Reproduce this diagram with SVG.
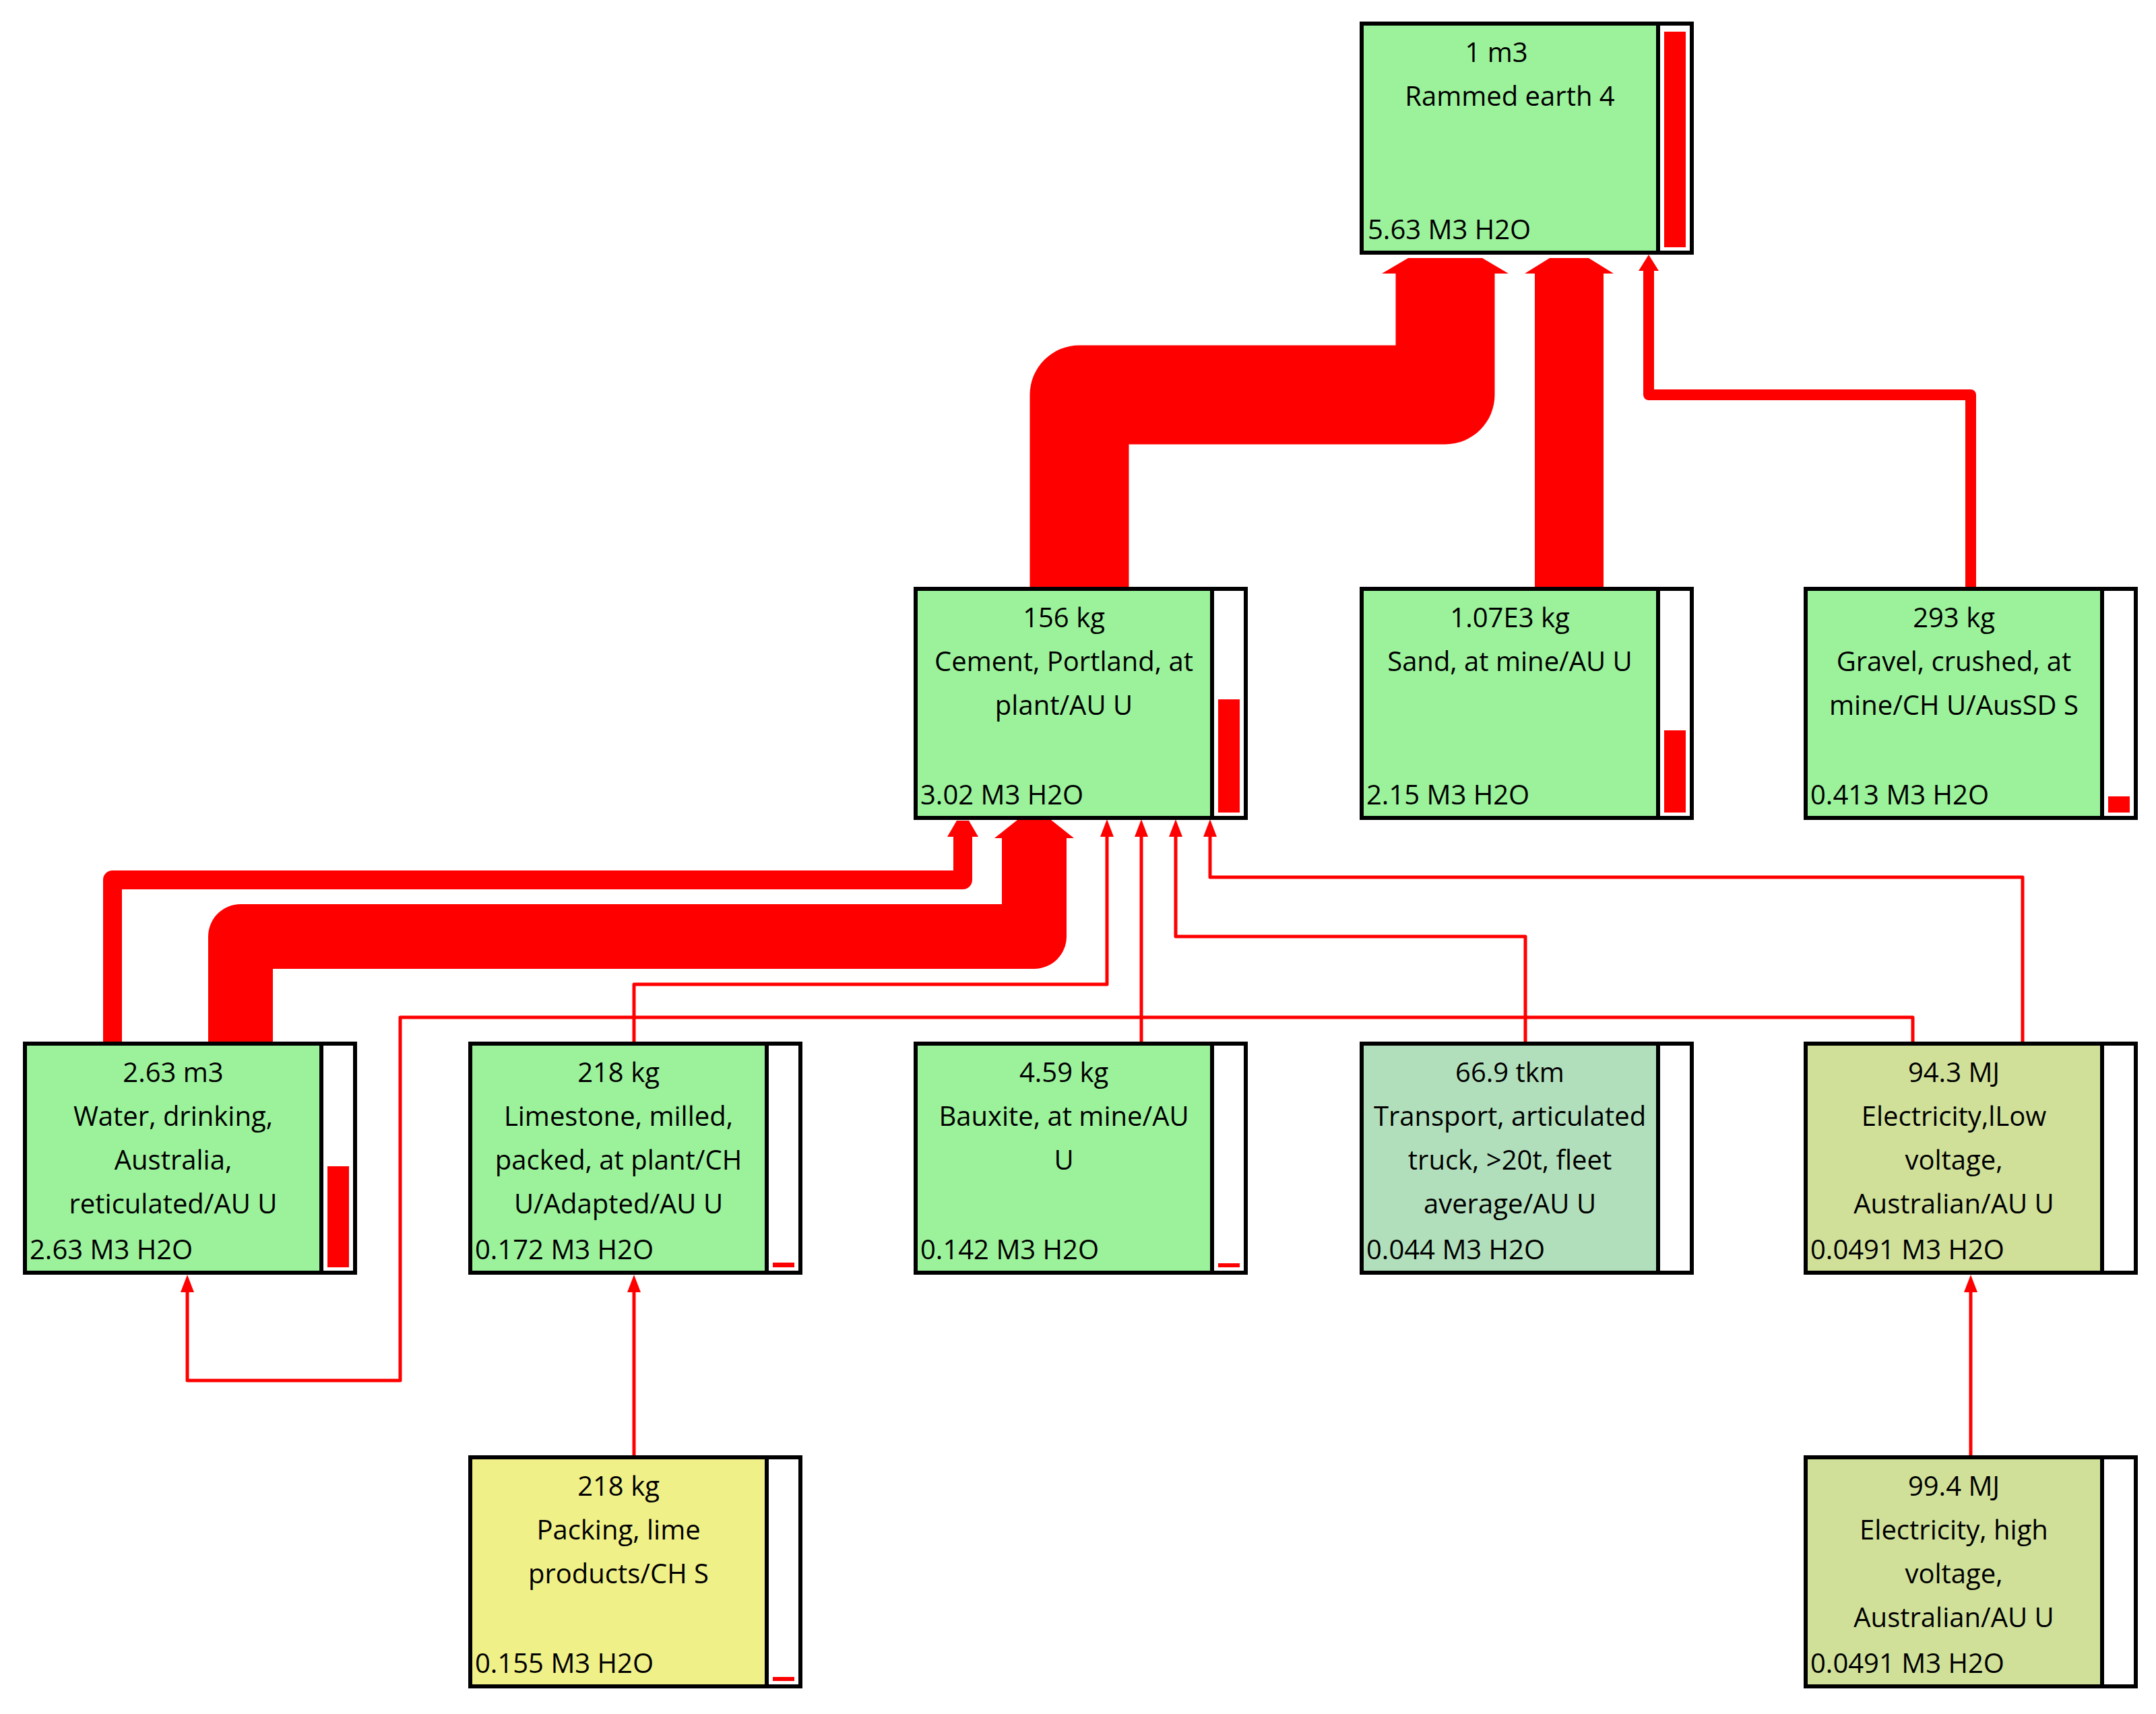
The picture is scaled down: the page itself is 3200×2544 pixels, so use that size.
<svg xmlns="http://www.w3.org/2000/svg" width="3200" height="2544" viewBox="0 0 3200 2544">
<style>
.b{stroke:#000;stroke-width:6}
.g{fill:#9BF29B}.t{fill:#B2DFBB}.e{fill:#D0E099}.p{fill:#F0F088}
.bar{fill:#fff;stroke:#000;stroke-width:6}
.r{fill:#f00}
text{font-family:"Open Sans","Noto Sans","DejaVu Sans",sans-serif;font-size:40px;fill:#000}
.c{text-anchor:middle}
.ln{fill:none;stroke:#f00;stroke-linejoin:round}
</style>
<rect width="3200" height="2544" fill="#fff"/>
<g id="connectors">
<path class="ln" d="M1602 874V586H2145V400" stroke-width="147"/>
<polygon class="r" points="2051,406 2090,383 2200,383 2239,406"/>
<path class="ln" d="M2329 874V400" stroke-width="102"/>
<polygon class="r" points="2263,406 2300,383 2358,383 2395,406"/>
<path class="ln" d="M2925 874V586H2447V400" stroke-width="16"/>
<polygon class="r" points="2432,402 2447,378 2462,402"/>
<path class="ln" d="M167 1549V1306H1429V1238" stroke-width="28"/>
<polygon class="r" points="1406,1242 1420,1218 1438,1218 1452,1242"/>
<path class="ln" d="M357 1549V1390H1535V1238" stroke-width="96"/>
<polygon class="r" points="1476,1244 1510,1217 1560,1217 1594,1244"/>
<path class="ln" d="M941 1549V1461H1643V1230" stroke-width="5"/>
<polygon class="r" points="1633,1242 1643,1216 1653,1242"/>
<path class="ln" d="M1694 1549V1230" stroke-width="5"/>
<polygon class="r" points="1684,1242 1694,1216 1704,1242"/>
<path class="ln" d="M2264 1549V1390H1745V1230" stroke-width="5"/>
<polygon class="r" points="1735,1242 1745,1216 1755,1242"/>
<path class="ln" d="M3002 1549V1302H1796V1230" stroke-width="5"/>
<polygon class="r" points="1786,1242 1796,1216 1806,1242"/>
<path class="ln" d="M2839 1549V1510H594V2049H278V1906" stroke-width="5"/>
<polygon class="r" points="268,1918 278,1892 288,1918"/>
<path class="ln" d="M941 2163V1906" stroke-width="5"/>
<polygon class="r" points="931,1918 941,1892 951,1918"/>
<path class="ln" d="M2925 2163V1906" stroke-width="5"/>
<polygon class="r" points="2915,1918 2925,1892 2935,1918"/>
</g>
<g id="rammed"><rect class="b g" x="2021" y="35" width="490" height="340"/><rect class="bar" x="2461" y="35" width="50" height="340"/><rect class="r" x="2470" y="47" width="32" height="320"/>
<text class="c" x="2221" y="92">1 m3</text><text class="c" x="2241" y="157">Rammed earth 4</text><text x="2030" y="355">5.63 M3 H2O</text></g>
<g id="cement"><rect class="b g" x="1359" y="874" width="490" height="340"/><rect class="bar" x="1799" y="874" width="50" height="340"/><rect class="r" x="1808" y="1038" width="32" height="168"/>
<text class="c" x="1579" y="931">156 kg</text><text class="c" x="1579" y="996">Cement, Portland, at</text><text class="c" x="1579" y="1061">plant/AU U</text><text x="1366" y="1194">3.02 M3 H2O</text></g>
<g id="sand"><rect class="b g" x="2021" y="874" width="490" height="340"/><rect class="bar" x="2461" y="874" width="50" height="340"/><rect class="r" x="2470" y="1084" width="32" height="122"/>
<text class="c" x="2241" y="931">1.07E3 kg</text><text class="c" x="2241" y="996">Sand, at mine/AU U</text><text x="2028" y="1194">2.15 M3 H2O</text></g>
<g id="gravel"><rect class="b g" x="2680" y="874" width="490" height="340"/><rect class="bar" x="3120" y="874" width="50" height="340"/><rect class="r" x="3129" y="1182" width="32" height="24"/>
<text class="c" x="2900" y="931">293 kg</text><text class="c" x="2900" y="996">Gravel, crushed, at</text><text class="c" x="2900" y="1061">mine/CH U/AusSD S</text><text x="2687" y="1194">0.413 M3 H2O</text></g>
<g id="water"><rect class="b g" x="37" y="1549" width="490" height="340"/><rect class="bar" x="477" y="1549" width="50" height="340"/><rect class="r" x="486" y="1731" width="32" height="150"/>
<text class="c" x="257" y="1606">2.63 m3</text><text class="c" x="257" y="1671">Water, drinking,</text><text class="c" x="257" y="1736">Australia,</text><text class="c" x="257" y="1801">reticulated/AU U</text><text x="44" y="1869">2.63 M3 H2O</text></g>
<g id="limestone"><rect class="b g" x="698" y="1549" width="490" height="340"/><rect class="bar" x="1138" y="1549" width="50" height="340"/><rect class="r" x="1147" y="1874" width="32" height="7"/>
<text class="c" x="918" y="1606">218 kg</text><text class="c" x="918" y="1671">Limestone, milled,</text><text class="c" x="918" y="1736">packed, at plant/CH</text><text class="c" x="918" y="1801">U/Adapted/AU  U</text><text x="705" y="1869">0.172 M3 H2O</text></g>
<g id="bauxite"><rect class="b g" x="1359" y="1549" width="490" height="340"/><rect class="bar" x="1799" y="1549" width="50" height="340"/><rect class="r" x="1808" y="1875" width="32" height="6"/>
<text class="c" x="1579" y="1606">4.59 kg</text><text class="c" x="1579" y="1671">Bauxite, at mine/AU</text><text class="c" x="1579" y="1736">U</text><text x="1366" y="1869">0.142 M3 H2O</text></g>
<g id="transport"><rect class="b t" x="2021" y="1549" width="490" height="340"/><rect class="bar" x="2461" y="1549" width="50" height="340"/>
<text class="c" x="2241" y="1606">66.9 tkm</text><text class="c" x="2241" y="1671">Transport, articulated</text><text class="c" x="2241" y="1736">truck, &gt;20t, fleet</text><text class="c" x="2241" y="1801">average/AU U</text><text x="2028" y="1869">0.044 M3 H2O</text></g>
<g id="elecLV"><rect class="b e" x="2680" y="1549" width="490" height="340"/><rect class="bar" x="3120" y="1549" width="50" height="340"/>
<text class="c" x="2900" y="1606">94.3 MJ</text><text class="c" x="2900" y="1671">Electricity,lLow</text><text class="c" x="2900" y="1736">voltage,</text><text class="c" x="2900" y="1801">Australian/AU U</text><text x="2687" y="1869">0.0491 M3 H2O</text></g>
<g id="packing"><rect class="b p" x="698" y="2163" width="490" height="340"/><rect class="bar" x="1138" y="2163" width="50" height="340"/><rect class="r" x="1147" y="2489" width="32" height="6"/>
<text class="c" x="918" y="2220">218 kg</text><text class="c" x="918" y="2285">Packing, lime</text><text class="c" x="918" y="2350">products/CH  S</text><text x="705" y="2483">0.155 M3 H2O</text></g>
<g id="elecHV"><rect class="b e" x="2680" y="2163" width="490" height="340"/><rect class="bar" x="3120" y="2163" width="50" height="340"/>
<text class="c" x="2900" y="2220">99.4 MJ</text><text class="c" x="2900" y="2285">Electricity, high</text><text class="c" x="2900" y="2350">voltage,</text><text class="c" x="2900" y="2415">Australian/AU U</text><text x="2687" y="2483">0.0491 M3 H2O</text></g>
</svg>
